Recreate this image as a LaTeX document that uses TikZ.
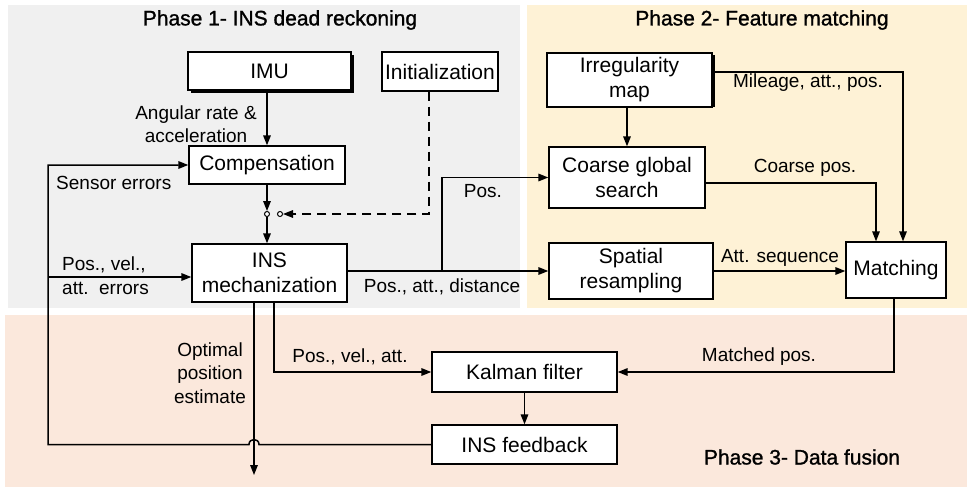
\documentclass[tikz,border=0pt]{standalone}
\usepackage{fontspec}
\setmainfont{Liberation Sans}
\newfontfamily\titlefont[FakeBold=1.2]{Liberation Sans}
\usetikzlibrary{arrows.meta,calc,shadows}
\definecolor{bgA}{RGB}{240,240,240}
\definecolor{bgB}{RGB}{254,242,214}
\definecolor{bgC}{RGB}{251,232,220}
\begin{document}
\begin{tikzpicture}[x=1pt,y=-1pt,
  box/.style={draw,line width=1.3pt,fill=white,inner sep=0pt,align=center,font=\fontsize{21}{25}\selectfont},
  lbl/.style={font=\fontsize{19}{23.5}\selectfont,inner sep=0pt,align=center},
  ttl/.style={font=\titlefont\fontsize{21}{25}\selectfont,inner sep=0pt},
  conn/.style={line width=1.5pt,-{Triangle[length=10pt,width=7.5pt]}},
  ln/.style={line width=1.5pt},
  junc/.style={circle,draw,line width=1pt,fill=white,inner sep=0pt,minimum size=5pt}]
\useasboundingbox (0,0) rectangle (967,487);
\fill[white] (0,0) rectangle (967,487);
\fill[bgA] (8,5) rectangle (520,308);
\fill[bgB] (527,5) rectangle (967,308);
\fill[bgC] (5,315) rectangle (967,487);

% titles
\node[ttl] (t1) at (280,20) {Phase 1- INS dead reckoning};
\node[ttl] (t2) at (762,20) {Phase 2- Feature matching};
\node[ttl] (t3) at (802,457) {Phase 3- Data fusion};

% boxes
\node[box,minimum width=163pt,minimum height=38pt,drop shadow={shadow xshift=3pt,shadow yshift=-3pt,opacity=1,fill=black}] (imu) at (269.5,71) {IMU};
\node[box,minimum width=116pt,minimum height=39pt] (init) at (440,71.5) {Initialization};
\node[box,minimum width=156pt,minimum height=38pt] (comp) at (267,165) {Compensation};
\node[box,minimum width=155pt,minimum height=58pt] (ins) at (269.5,273) {INS\\mechanization};
\node[box,minimum width=165pt,minimum height=54pt] (irr) at (629.5,80) {Irregularity\\map};
\draw[line width=3pt] ([xshift=1pt,yshift=-3pt]irr.north east) -- ([xshift=1pt,yshift=1pt]irr.south east);
\node[box,minimum width=156pt,minimum height=61pt] (coarse) at (627,177.5) {Coarse global\\search};
\node[box,minimum width=164pt,minimum height=56pt] (spat) at (631,271) {Spatial\\resampling};
\node[box,minimum width=100pt,minimum height=56pt] (match) at (896,270) {Matching};
\node[box,minimum width=185pt,minimum height=40pt] (kal) at (524.5,372) {Kalman filter};
\node[box,minimum width=185pt,minimum height=39pt] (fb) at (524.5,444.5) {INS feedback};

% junction circles
\node[junc] (c1) at (267,214) {};
\node[junc] (c2) at (280,214) {};

% coordinates
\coordinate (opt) at (254,475);
\coordinate (br) at (48,277);
\coordinate (pb) at (442,271);

% connectors
\draw[conn] (imu.south -| comp.north) -- (comp.north);
\draw[conn] (comp.south) -- (c1.north);
\draw[conn] (c1.south) -- (c1.south |- ins.north);
\draw[ln,dash pattern=on 9pt off 6pt,-{Triangle[length=10pt,width=7.5pt]}] ([xshift=-11pt]init.south) |- (c2.east);
\draw[conn] (fb.west) -- (259,444.5) to[out=90,in=90,looseness=1.7] (249,444.5) -- (48,444.5) |- (comp.west);
\draw[conn] (br) -- (br -| ins.west);
\draw[conn] (ins.south -| opt) -- (opt);
\draw[conn] ([xshift=4.5pt]ins.south) |- (kal.west);
\draw[conn] (spat.west -| ins.east) -- (spat.west);
\draw[conn] (pb) |- (coarse.west);
\draw[conn] (irr.south -| coarse.north) -- (coarse.north);
\draw[conn] ([yshift=8pt]irr.east) -| ([xshift=7pt]match.north);
\draw[conn] ([yshift=-5.5pt]coarse.east) -| ([xshift=-20pt]match.north);
\draw[conn] (spat.east) -- (spat.east -| match.west);
\draw[conn] ([xshift=-2pt]match.south) |- (kal.east);
\draw[conn] (kal.south) -- (fb.north);

% labels
\node[lbl] (l1) at (196,124) {Angular rate \&\\acceleration};
\node[lbl,anchor=west] (l2) at (56,183) {Sensor errors};
\node[lbl,anchor=west,align=left] (l3) at (62,275.5) {Pos., vel.,\\att.\ \ errors};
\node[lbl] (l4) at (210,373) {Optimal\\position\\estimate};
\node[lbl] (l5) at (350,357) {Pos., vel., att.};
\node[lbl] (l6) at (442,287) {Pos., att., distance};
\node[lbl] (l7) at (483,191) {Pos.};
\node[lbl] (l8) at (808,83) {Mileage, att., pos.};
\node[lbl] (l9) at (805,168) {Coarse pos.};
\node[lbl] (l10) at (780,258) {Att. sequence};
\node[lbl] (l11) at (759,357) {Matched pos.};
\end{tikzpicture}
\end{document}
